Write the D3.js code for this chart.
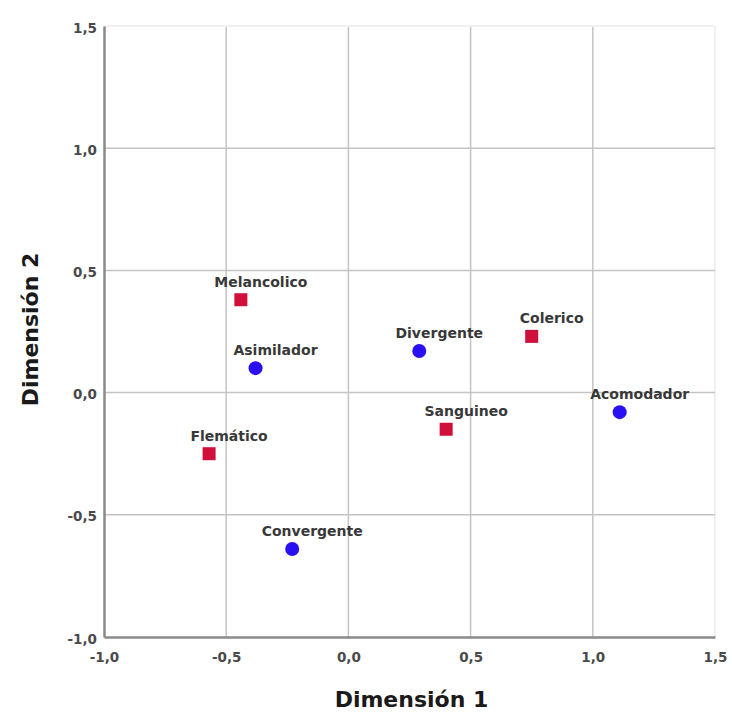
<!DOCTYPE html>
<html>
<head>
<meta charset="utf-8">
<script src="https://cdn.jsdelivr.net/npm/d3@7"></script>
<style>
  html, body { margin: 0; padding: 0; background: #fff; }
  svg { display: block; }
</style>
</head>
<body>
<svg id="chart" width="732" height="713"></svg>
<script>
// Point labels and coordinates on the two dimensions
const styleNames = ["Asimilador", "Divergente", "Acomodador", "Convergente"];
const styleDim1  = [-0.38, 0.29, 1.11, -0.23];
const styleDim2  = [0.10, 0.17, -0.08, -0.64];

const temperNames = ["Melancolico", "Colerico", "Sanguineo", "Flemático"];
const temperDim1  = [-0.44, 0.75, 0.40, -0.57];
const temperDim2  = [0.38, 0.23, -0.15, -0.25];

const tickValues = [-1.0, -0.5, 0.0, 0.5, 1.0, 1.5];
const xTitle = "Dimensión 1";
const yTitle = "Dimensión 2";

const svg = d3.select("#chart");
const pLeft = 104, pRight = 715, pTop = 26, pBottom = 637;

const x = d3.scaleLinear().domain([-1.0, 1.5]).range([pLeft, pRight]);
const y = d3.scaleLinear().domain([-1.0, 1.5]).range([pBottom, pTop]);
const fmt = d => d3.format(".1f")(d).replace(".", ",").replace("−", "-");

const font = "'DejaVu Sans', 'Open Sans', sans-serif";

// Grid lines
const g = svg.append("g");
g.selectAll("line.vx").data(tickValues.slice(1)).join("line")
  .attr("x1", d => x(d)).attr("x2", d => x(d))
  .attr("y1", pTop).attr("y2", pBottom)
  .attr("stroke", d => d === 1.5 ? "#f0f0f0" : "#c4c4c4")
  .attr("stroke-width", d => d === 1.5 ? 2 : 1.5);
g.selectAll("line.hy").data(tickValues.slice(1)).join("line")
  .attr("y1", d => y(d)).attr("y2", d => y(d))
  .attr("x1", pLeft).attr("x2", pRight)
  .attr("stroke", d => d === 1.5 ? "#f0f0f0" : "#c4c4c4")
  .attr("stroke-width", d => d === 1.5 ? 2 : 1.5);

// Axes
const xAxis = svg.append("g").attr("transform", `translate(0,${pBottom})`)
  .call(d3.axisBottom(x).tickValues(tickValues).tickFormat(fmt).tickSize(0).tickPadding(15));
const yAxis = svg.append("g").attr("transform", `translate(${pLeft},0)`)
  .call(d3.axisLeft(y).tickValues(tickValues).tickFormat(fmt).tickSize(0).tickPadding(7));
[xAxis, yAxis].forEach(a => {
  a.select(".domain").attr("stroke", "#8a8a8a").attr("stroke-width", 2.5);
  a.selectAll("text").attr("font-family", font).attr("font-size", 13.5)
    .attr("font-weight", 700).attr("fill", "#4a4a4a");
});
xAxis.selectAll(".tick text").attr("dy", "0.71em");
yAxis.selectAll(".tick text").attr("dy", "0.45em");

// Axis titles
svg.append("text").attr("x", (pLeft + pRight) / 2 + 2).attr("y", 707)
  .attr("text-anchor", "middle").attr("font-family", font)
  .attr("font-size", 22).attr("font-weight", 700).attr("fill", "#1a1a1a")
  .text(xTitle);
svg.append("text")
  .attr("transform", `translate(38,${(pTop + pBottom) / 2 - 2}) rotate(-90)`)
  .attr("text-anchor", "middle").attr("font-family", font)
  .attr("font-size", 22).attr("font-weight", 700).attr("fill", "#1a1a1a")
  .text(yTitle);

// Blue circles: learning styles; red squares: temperaments
const styles = styleNames.map((n, i) => ({ name: n, a: styleDim1[i], b: styleDim2[i] }));
const temper = temperNames.map((n, i) => ({ name: n, a: temperDim1[i], b: temperDim2[i] }));

svg.selectAll("circle.style").data(styles).join("circle")
  .attr("cx", d => x(d.a)).attr("cy", d => y(d.b)).attr("r", 7)
  .attr("fill", "#2a10f0");

svg.selectAll("rect.temper").data(temper).join("rect")
  .attr("x", d => x(d.a) - 6.5).attr("y", d => y(d.b) - 6.5)
  .attr("width", 13).attr("height", 13)
  .attr("fill", "#d0103a");

// Point labels
svg.selectAll("text.lbl").data(styles.concat(temper)).join("text")
  .attr("x", d => x(d.a) + 20).attr("y", d => y(d.b) - 13)
  .attr("text-anchor", "middle").attr("font-family", font)
  .attr("font-size", 14).attr("font-weight", 700).attr("fill", "#383838")
  .text(d => d.name);
</script>
</body>
</html>
